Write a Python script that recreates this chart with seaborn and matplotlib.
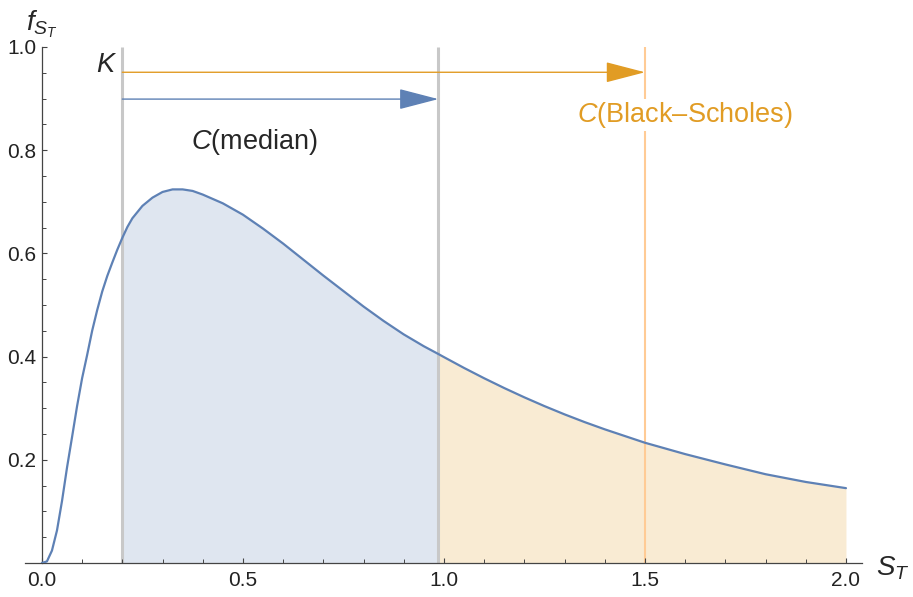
import numpy as np
import matplotlib
matplotlib.use('Agg')
import matplotlib.pyplot as plt
import pandas as pd
import seaborn as sns
from matplotlib.patches import FancyArrowPatch

# Valori (densità di S_T)
s_values = [0.0, 0.0125, 0.025, 0.0375, 0.05, 0.0625, 0.075, 0.0875, 0.1, 0.1125,
            0.125, 0.1375, 0.15, 0.1625, 0.175, 0.1875, 0.2, 0.2125, 0.225, 0.25,
            0.275, 0.3, 0.325, 0.35, 0.375, 0.4, 0.45, 0.5, 0.55, 0.6,
            0.65, 0.7, 0.75, 0.8, 0.85, 0.9, 0.95, 0.986, 1.0, 1.05,
            1.1, 1.15, 1.2, 1.25, 1.3, 1.35, 1.4, 1.45, 1.5, 1.6,
            1.7, 1.8, 1.9, 2.0]
f_values = [0.0, 0.003, 0.024, 0.063, 0.12, 0.185, 0.244, 0.304, 0.358, 0.403,
            0.45, 0.49, 0.526, 0.556, 0.582, 0.607, 0.630, 0.651, 0.668, 0.692,
            0.708, 0.719, 0.724, 0.724, 0.721, 0.714, 0.697, 0.675, 0.648, 0.619,
            0.588, 0.557, 0.527, 0.497, 0.469, 0.443, 0.420, 0.405, 0.399, 0.378,
            0.358, 0.339, 0.321, 0.304, 0.288, 0.273, 0.259, 0.246, 0.233, 0.211,
            0.191, 0.172, 0.157, 0.145]

strike = 0.2
median = 0.986
bs_price = 1.5
x_ticks = [0.0, 0.5, 1.0, 1.5, 2.0]
y_ticks = [0.2, 0.4, 0.6, 0.8, 1.0]

blue = '#5E81B5'
orange = '#E19C24'

sns.set_style('white')
plt.rcParams['font.family'] = ['Liberation Sans', 'DejaVu Sans']
plt.rcParams['mathtext.fontset'] = 'custom'
plt.rcParams['mathtext.rm'] = 'Liberation Sans'
plt.rcParams['mathtext.it'] = 'Liberation Sans:italic'

df = pd.DataFrame({'S': s_values, 'f': f_values})
s = np.array(s_values)
f = np.array(f_values)

fig = plt.figure(figsize=(9.13, 5.97), dpi=100)
ax = fig.add_axes([0.0274, 0.0570, 0.9168, 0.8643])
ax.set_axisbelow(False)

# Aree colorate
m1 = (s >= strike) & (s <= median)
m2 = s >= median
ax.fill_between(s[m1], 0, f[m1], color='#DFE6F0', lw=0, zorder=1)
ax.fill_between(s[m2], 0, f[m2], color='#F9EBD3', lw=0, zorder=1)

# Linee verticali
ax.plot([strike, strike], [0, 1.0], color='#C8C8C8', lw=2.2, zorder=2, solid_capstyle='butt')
ax.plot([median, median], [0, 1.0], color='#C8C8C8', lw=2.2, zorder=2, solid_capstyle='butt')
ax.plot([bs_price, bs_price], [0, 1.0], color='#FFCB95', lw=1.5, zorder=2, solid_capstyle='butt')

# Curva
sns.lineplot(data=df, x='S', y='f', color=blue, lw=1.6, ax=ax, zorder=3,
             solid_joinstyle='round')

# Frecce
for x_end, y_arr, col in [(bs_price, 0.951, orange), (median, 0.899, blue)]:
    arr = FancyArrowPatch((strike, y_arr), (x_end, y_arr),
                          arrowstyle='-|>,head_length=25,head_width=6.5',
                          mutation_scale=1, color=col, lw=1.0,
                          shrinkA=0, shrinkB=0, zorder=4)
    ax.add_patch(arr)

# Testi
ax.text(0.157, 0.965, 'K', fontsize=19.5, style='italic', ha='center', va='center')
ax.text(0.529, 0.816, r'$\mathit{C}$(median)', fontsize=19.5, ha='center', va='center')
ax.text(1.600, 0.868, r'$\mathit{C}$(Black–Scholes)', fontsize=19.5, color=orange,
        ha='center', va='center', zorder=5,
        bbox=dict(facecolor='white', edgecolor='none', pad=1.0))

ax.text(0.0, 1.045, r'$f_{S_T}$', fontsize=20, ha='center', va='center', clip_on=False)
ax.text(2.074, -0.01, r'$S_T$', fontsize=20, ha='left', va='center', clip_on=False)

# Assi
ax.set_xlim(-0.042, 2.04)
ax.set_ylim(0, 1.0)
ax.spines['left'].set_position(('data', 0))
ax.spines['top'].set_visible(False)
ax.spines['right'].set_visible(False)
for sp in ['left', 'bottom']:
    ax.spines[sp].set_color('#444444')
    ax.spines[sp].set_linewidth(0.9)

ax.set_xticks(x_ticks)
ax.set_xticklabels([f'{v:.1f}' for v in x_ticks])
ax.set_yticks(y_ticks)
ax.set_yticklabels([f'{v:.1f}' for v in y_ticks])
ax.set_xticks(np.arange(0.1, 2.01, 0.1), minor=True)
ax.set_yticks(np.arange(0.05, 1.0, 0.05), minor=True)
ax.tick_params(which='both', bottom=True, left=True, top=False, right=False)
ax.tick_params(which='major', direction='in', length=3.8, width=0.8, color='#444444',
               labelsize=15, labelcolor='#222222')
ax.tick_params(which='minor', direction='in', length=2.6, width=0.7, color='#444444')
ax.tick_params(axis='x', which='major', pad=6)
ax.tick_params(axis='y', which='major', pad=4)
ax.set_xlabel('')
ax.set_ylabel('')

fig.savefig('out.png', dpi=100)
